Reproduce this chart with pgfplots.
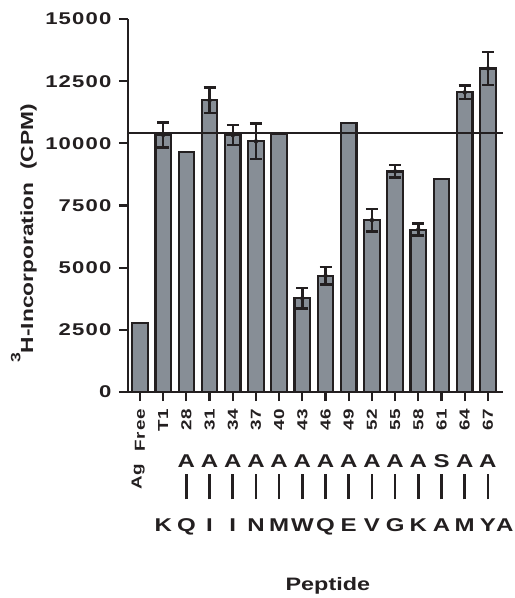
\documentclass[border=0pt]{standalone}
\usepackage{fontspec}
\setmainfont{Liberation Sans}
\newfontfamily\tfont{Liberation Sans}[FakeStretch=1.3, BoldFeatures={FakeStretch=1.3}]
\newfontfamily\ytfont{Liberation Sans}[FakeStretch=1.3, LetterSpace=7, BoldFeatures={FakeStretch=1.3, LetterSpace=7}]
\newfontfamily\xtfont{Liberation Sans}[FakeStretch=1.3, LetterSpace=8, BoldFeatures={FakeStretch=1.3, LetterSpace=8}]
\usepackage{pgfplots}
\pgfplotsset{compat=1.18}
\usepackage{pgfplotstable}
\definecolor{barfill}{RGB}{135,142,150}
\definecolor{edge}{RGB}{35,31,32}

\pgfplotstableread{
x y
0 2780
1 10340
2 9640
3 11730
4 10330
5 10080
6 10380
7 3770
8 4670
9 10830
10 6910
11 8870
12 6530
13 8580
14 12050
15 13010
}\data

\pgfplotstableread{
x y e
1 10340 500
3 11730 520
4 10330 400
5 10080 720
7 3770 420
8 4670 350
10 6910 460
11 8870 250
12 6530 240
14 12050 270
15 13010 660
}\errdata

\newcommand{\lf}{\tfont\bfseries\fontsize{18.5bp}{18.5bp}\selectfont}

\begin{document}
\begin{tikzpicture}
\path[use as bounding box] (0bp,0bp) rectangle (515bp,598bp);
\begin{axis}[
  at={(128bp,206bp)}, anchor=south west,
  scale only axis, width=375bp, height=373bp,
  xmin=-0.517, xmax=15.65, ymin=0, ymax=15000,
  axis x line*=bottom, axis y line*=left,
  axis line style={edge, line width=2.2bp, -},
  ytick={0,2500,...,15000},
  scaled y ticks=false,
  xtick={0,...,15},
  xticklabels={Free,T1,28,31,34,37,40,43,46,49,52,55,58,61,64,67},
  tick align=outside, major tick length=9bp,
  tick style={edge, line width=2.2bp},
  /pgf/number format/set thousands separator={},
  /pgf/number format/assume math mode=true,
  yticklabel shift=4bp, xticklabel shift=4bp,
  yticklabel style={font=\ytfont\bfseries\fontsize{17bp}{17bp}\selectfont, text=edge},
  xticklabel style={font=\xtfont\bfseries\fontsize{14.5bp}{14.5bp}\selectfont, rotate=90, anchor=east, text=edge},
  clip=false,
]
\addplot[ybar, bar width=0.67, fill=barfill, draw=edge, line width=2.2bp]
  table[x=x, y=y]{\data};
\addplot[only marks, mark=none, forget plot, edge,
  error bars/.cd, y dir=both, y explicit,
  error bar style={draw=edge, line width=2.4bp},
  error mark options={draw=edge, line width=2.4bp, mark size=6bp, rotate=90}]
  table[x=x, y=y, y error=e]{\errdata};
\addplot[edge, line width=2.2bp, forget plot] coordinates {(-0.517,10400) (15.65,10400)};

% top row
\node[anchor=base, text=edge, font=\lf] at (axis cs:2,-3043) {A};
\node[anchor=base, text=edge, font=\lf] at (axis cs:3,-3043) {A};
\node[anchor=base, text=edge, font=\lf] at (axis cs:4,-3043) {A};
\node[anchor=base, text=edge, font=\lf] at (axis cs:5,-3043) {A};
\node[anchor=base, text=edge, font=\lf] at (axis cs:6,-3043) {A};
\node[anchor=base, text=edge, font=\lf] at (axis cs:7,-3043) {A};
\node[anchor=base, text=edge, font=\lf] at (axis cs:8,-3043) {A};
\node[anchor=base, text=edge, font=\lf] at (axis cs:9,-3043) {A};
\node[anchor=base, text=edge, font=\lf] at (axis cs:10,-3043) {A};
\node[anchor=base, text=edge, font=\lf] at (axis cs:11,-3043) {A};
\node[anchor=base, text=edge, font=\lf] at (axis cs:12,-3043) {A};
\node[anchor=base, text=edge, font=\lf] at (axis cs:13,-3043) {S};
\node[anchor=base, text=edge, font=\lf] at (axis cs:14,-3043) {A};
\node[anchor=base, text=edge, font=\lf] at (axis cs:15,-3043) {A};
% vertical bars
\node[anchor=south, inner sep=0pt, text=edge] at (axis cs:2,-4330) {\rule{2.6bp}{25bp}};
\node[anchor=south, inner sep=0pt, text=edge] at (axis cs:3,-4330) {\rule{2.6bp}{25bp}};
\node[anchor=south, inner sep=0pt, text=edge] at (axis cs:4,-4330) {\rule{2.6bp}{25bp}};
\node[anchor=south, inner sep=0pt, text=edge] at (axis cs:5,-4330) {\rule{2.6bp}{25bp}};
\node[anchor=south, inner sep=0pt, text=edge] at (axis cs:6,-4330) {\rule{2.6bp}{25bp}};
\node[anchor=south, inner sep=0pt, text=edge] at (axis cs:7,-4330) {\rule{2.6bp}{25bp}};
\node[anchor=south, inner sep=0pt, text=edge] at (axis cs:8,-4330) {\rule{2.6bp}{25bp}};
\node[anchor=south, inner sep=0pt, text=edge] at (axis cs:9,-4330) {\rule{2.6bp}{25bp}};
\node[anchor=south, inner sep=0pt, text=edge] at (axis cs:10,-4330) {\rule{2.6bp}{25bp}};
\node[anchor=south, inner sep=0pt, text=edge] at (axis cs:11,-4330) {\rule{2.6bp}{25bp}};
\node[anchor=south, inner sep=0pt, text=edge] at (axis cs:12,-4330) {\rule{2.6bp}{25bp}};
\node[anchor=south, inner sep=0pt, text=edge] at (axis cs:13,-4330) {\rule{2.6bp}{25bp}};
\node[anchor=south, inner sep=0pt, text=edge] at (axis cs:14,-4330) {\rule{2.6bp}{25bp}};
\node[anchor=south, inner sep=0pt, text=edge] at (axis cs:15,-4330) {\rule{2.6bp}{25bp}};
% bottom row
\node[anchor=base, text=edge, font=\lf] at (axis cs:1,-5604) {K};
\node[anchor=base, text=edge, font=\lf] at (axis cs:2,-5604) {Q};
\node[anchor=base, text=edge, font=\lf] at (axis cs:3,-5604) {I};
\node[anchor=base, text=edge, font=\lf] at (axis cs:4,-5604) {I};
\node[anchor=base, text=edge, font=\lf] at (axis cs:5,-5604) {N};
\node[anchor=base, text=edge, font=\lf] at (axis cs:6,-5604) {M};
\node[anchor=base, text=edge, font=\lf] at (axis cs:7,-5604) {W};
\node[anchor=base, text=edge, font=\lf] at (axis cs:8,-5604) {Q};
\node[anchor=base, text=edge, font=\lf] at (axis cs:9,-5604) {E};
\node[anchor=base, text=edge, font=\lf] at (axis cs:10,-5604) {V};
\node[anchor=base, text=edge, font=\lf] at (axis cs:11,-5604) {G};
\node[anchor=base, text=edge, font=\lf] at (axis cs:12,-5604) {K};
\node[anchor=base, text=edge, font=\lf] at (axis cs:13,-5604) {A};
\node[anchor=base, text=edge, font=\lf] at (axis cs:14,-5604) {M};
\node[anchor=base, text=edge, font=\lf] at (axis cs:15,-5604) {Y};
\node[anchor=base, text=edge, font=\lf] at (axis cs:15.73,-5604) {A};
% Ag
\node[rotate=90, anchor=base, text=edge, font=\tfont\bfseries\fontsize{14.5bp}{14.5bp}\selectfont] at (axis cs:0.07,-3400) {Ag};
% x label
\node[anchor=base, text=edge, font=\tfont\bfseries\fontsize{18bp}{18bp}\selectfont] at (axis cs:8.1,-7988) {Peptide};
\end{axis}
\node[rotate=90, anchor=base west, inner sep=0pt, text=edge, font=\tfont\bfseries\fontsize{17.5bp}{17.5bp}\selectfont] at (33bp,235bp)
  {\raisebox{0.72em}{\fontsize{13.5bp}{13.5bp}\selectfont 3}H-Incorporation\ \ (CPM)};
\end{tikzpicture}
\end{document}
